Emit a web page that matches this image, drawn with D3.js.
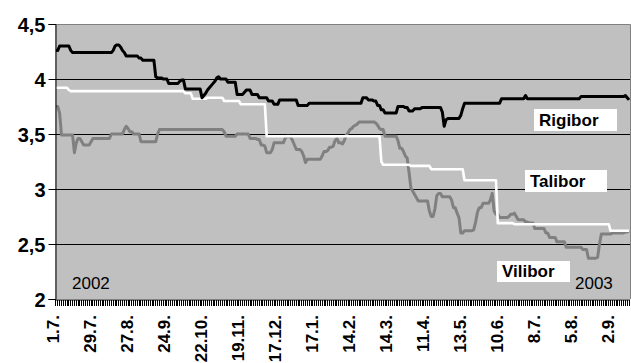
<!DOCTYPE html>
<html><head><meta charset="utf-8">
<script src="https://cdn.jsdelivr.net/npm/d3@7"></script>
<style>
html,body{margin:0;padding:0;background:#fff;}
svg{display:block;}
text{font-family:"Liberation Sans",Arial,sans-serif;}
</style></head>
<body><svg id="c" width="631" height="363"></svg>
<script>
// ---- data (one value per business day, 1.7.2002 – Sept 2003) ----
const rigibor = [
4.26,4.26,4.30,4.30,4.30,4.30,4.30,4.30,4.26,4.24,
4.24,4.24,4.24,4.24,4.24,4.24,4.24,4.24,4.24,4.24,
4.24,4.24,4.24,4.24,4.24,4.24,4.24,4.24,4.24,4.24,
4.24,4.26,4.30,4.31,4.31,4.29,4.26,4.24,4.21,4.21,
4.21,4.21,4.21,4.21,4.21,4.19,4.19,4.17,4.17,4.17,
4.17,4.17,4.17,4.17,4.02,4.01,4.01,4.01,4.00,4.00,
4.00,3.96,3.96,3.96,3.96,3.96,3.96,3.98,3.99,3.99,
3.91,3.91,3.91,3.91,3.91,3.91,3.91,3.91,3.91,3.83,
3.85,3.87,3.90,3.92,3.94,3.96,3.98,4.01,4.02,4.00,
4.00,4.00,4.00,3.97,3.97,3.97,3.97,3.97,3.86,3.86,
3.86,3.86,3.88,3.90,3.90,3.90,3.86,3.86,3.86,3.86,
3.83,3.83,3.83,3.83,3.83,3.80,3.80,3.80,3.77,3.77,
3.77,3.81,3.81,3.81,3.81,3.81,3.81,3.81,3.81,3.81,
3.81,3.76,3.76,3.76,3.76,3.76,3.76,3.78,3.78,3.78,
3.78,3.78,3.78,3.78,3.78,3.78,3.78,3.78,3.78,3.78,
3.78,3.78,3.78,3.78,3.78,3.78,3.78,3.78,3.78,3.78,
3.78,3.78,3.78,3.78,3.78,3.78,3.83,3.83,3.83,3.81,
3.81,3.81,3.80,3.80,3.76,3.76,3.72,3.72,3.69,3.69,
3.69,3.69,3.69,3.69,3.69,3.75,3.75,3.75,3.75,3.74,
3.74,3.71,3.71,3.71,3.73,3.73,3.73,3.73,3.74,3.74,
3.74,3.74,3.74,3.74,3.74,3.74,3.74,3.74,3.74,3.70,
3.57,3.63,3.64,3.64,3.64,3.64,3.64,3.64,3.64,3.67,
3.73,3.78,3.78,3.78,3.78,3.78,3.78,3.78,3.78,3.78,
3.78,3.78,3.78,3.78,3.78,3.78,3.78,3.78,3.78,3.78,
3.78,3.82,3.82,3.82,3.82,3.82,3.82,3.82,3.82,3.82,
3.82,3.82,3.82,3.82,3.85,3.82,3.82,3.82,3.82,3.82,
3.82,3.82,3.82,3.82,3.82,3.82,3.82,3.82,3.82,3.82,
3.82,3.82,3.82,3.82,3.82,3.82,3.82,3.82,3.82,3.82,
3.82,3.82,3.82,3.82,3.84,3.84,3.84,3.84,3.84,3.84,
3.84,3.84,3.84,3.84,3.84,3.84,3.84,3.84,3.84,3.84,
3.84,3.84,3.84,3.84,3.84,3.84,3.84,3.84,3.85,3.83,
3.81];

const talibor = [
3.92,3.92,3.92,3.92,3.92,3.92,3.92,3.90,3.89,3.89,
3.89,3.89,3.89,3.89,3.89,3.89,3.89,3.89,3.89,3.89,
3.89,3.89,3.89,3.89,3.89,3.89,3.89,3.89,3.89,3.89,
3.89,3.89,3.89,3.89,3.89,3.89,3.89,3.89,3.89,3.89,
3.89,3.89,3.89,3.89,3.89,3.89,3.89,3.89,3.89,3.89,
3.89,3.89,3.89,3.89,3.89,3.89,3.89,3.89,3.89,3.89,
3.89,3.89,3.89,3.89,3.89,3.89,3.89,3.89,3.89,3.89,
3.87,3.87,3.87,3.87,3.82,3.82,3.82,3.82,3.82,3.82,
3.82,3.82,3.83,3.83,3.83,3.83,3.83,3.83,3.83,3.83,
3.83,3.80,3.80,3.80,3.80,3.80,3.80,3.80,3.80,3.80,
3.77,3.77,3.77,3.77,3.77,3.77,3.77,3.77,3.77,3.77,
3.77,3.77,3.77,3.77,3.48,3.48,3.48,3.48,3.48,3.48,
3.48,3.48,3.48,3.48,3.48,3.48,3.48,3.48,3.48,3.48,
3.48,3.48,3.48,3.48,3.48,3.48,3.48,3.48,3.48,3.48,
3.48,3.48,3.48,3.48,3.48,3.48,3.48,3.48,3.48,3.48,
3.48,3.48,3.48,3.48,3.48,3.48,3.48,3.48,3.48,3.48,
3.48,3.48,3.48,3.48,3.48,3.48,3.48,3.48,3.48,3.48,
3.48,3.48,3.48,3.48,3.48,3.48,3.25,3.22,3.22,3.22,
3.22,3.22,3.22,3.22,3.22,3.22,3.22,3.22,3.22,3.22,
3.22,3.22,3.21,3.21,3.21,3.21,3.21,3.21,3.21,3.21,
3.21,3.21,3.21,3.18,3.18,3.18,3.18,3.18,3.18,3.18,
3.18,3.18,3.18,3.18,3.18,3.18,3.18,3.18,3.18,3.18,
3.18,3.08,3.08,3.08,3.08,3.08,3.08,3.08,3.08,3.08,
3.08,3.08,3.08,3.08,3.08,3.08,3.08,3.08,3.08,2.69,
2.69,2.69,2.69,2.69,2.69,2.69,2.69,2.69,2.68,2.68,
2.68,2.68,2.68,2.68,2.68,2.68,2.68,2.68,2.68,2.68,
2.68,2.68,2.68,2.68,2.68,2.68,2.68,2.68,2.68,2.68,
2.68,2.68,2.68,2.68,2.68,2.68,2.68,2.68,2.68,2.68,
2.68,2.68,2.68,2.68,2.68,2.68,2.68,2.68,2.68,2.68,
2.68,2.68,2.68,2.68,2.68,2.68,2.68,2.68,2.68,2.68,
2.62,2.62,2.62,2.62,2.62,2.62,2.62,2.62,2.62,2.62,
2.62];

const vilibor = [
3.75,3.75,3.69,3.49,3.49,3.49,3.49,3.49,3.49,3.49,
3.33,3.42,3.46,3.46,3.43,3.40,3.40,3.40,3.40,3.43,
3.46,3.46,3.46,3.46,3.46,3.46,3.46,3.46,3.46,3.46,
3.50,3.50,3.50,3.50,3.50,3.50,3.50,3.54,3.57,3.55,
3.52,3.52,3.50,3.50,3.50,3.50,3.43,3.43,3.43,3.43,
3.43,3.43,3.43,3.43,3.43,3.50,3.54,3.54,3.54,3.54,
3.54,3.54,3.54,3.54,3.54,3.54,3.54,3.54,3.54,3.54,
3.54,3.54,3.54,3.54,3.54,3.54,3.54,3.54,3.54,3.54,
3.54,3.54,3.54,3.54,3.54,3.54,3.54,3.54,3.54,3.54,
3.54,3.52,3.48,3.48,3.48,3.48,3.48,3.48,3.50,3.50,
3.50,3.50,3.50,3.50,3.50,3.46,3.46,3.46,3.46,3.45,
3.45,3.40,3.40,3.39,3.33,3.33,3.33,3.36,3.42,3.42,
3.42,3.42,3.42,3.42,3.46,3.48,3.48,3.47,3.44,3.40,
3.36,3.36,3.36,3.34,3.30,3.24,3.27,3.27,3.27,3.27,
3.27,3.27,3.27,3.27,3.30,3.34,3.34,3.35,3.38,3.38,
3.39,3.44,3.46,3.42,3.42,3.41,3.44,3.49,3.51,3.54,
3.55,3.57,3.58,3.59,3.61,3.61,3.61,3.61,3.61,3.61,
3.61,3.61,3.61,3.60,3.58,3.55,3.54,3.54,3.48,3.48,
3.48,3.48,3.48,3.48,3.48,3.44,3.37,3.37,3.34,3.30,
3.28,3.15,3.01,2.98,2.95,2.92,2.89,2.89,2.89,2.89,
2.89,2.89,2.80,2.75,2.75,2.82,2.94,2.96,2.96,2.93,
2.93,2.93,2.93,2.93,2.90,2.83,2.83,2.78,2.74,2.60,
2.60,2.62,2.62,2.62,2.62,2.62,2.63,2.70,2.79,2.83,
2.83,2.87,2.87,2.87,2.87,2.90,2.96,2.80,2.77,2.77,
2.74,2.74,2.74,2.74,2.74,2.75,2.77,2.77,2.78,2.75,
2.72,2.72,2.72,2.72,2.70,2.70,2.69,2.69,2.69,2.64,
2.64,2.64,2.64,2.64,2.64,2.60,2.60,2.56,2.56,2.56,
2.56,2.52,2.52,2.52,2.52,2.52,2.47,2.47,2.47,2.47,
2.47,2.47,2.47,2.47,2.47,2.45,2.45,2.45,2.37,2.37,
2.37,2.37,2.37,2.38,2.50,2.59,2.59,2.59,2.59,2.59,
2.59,2.60,2.60,2.60,2.60,2.60,2.60,2.60,2.61,2.61,
2.62];

const xTickLabels = ["1.7.","29.7.","27.8.","24.9.","22.10.","19.11.","17.12.","17.1.","14.2.","14.3.","11.4.","13.5.","10.6.","8.7.","5.8.","2.9."];
const labelEvery = 20;
const yTicks = [2, 2.5, 3, 3.5, 4, 4.5];
const yearLabels = ["2002", "2003"];
const seriesNames = ["Rigibor", "Talibor", "Vilibor"];

// ---- chart ----
const N = rigibor.length;
const svg = d3.select("#c");
const L = 55, R = 630, T = 24, B = 299;
const x = d3.scaleBand().domain(d3.range(N)).range([L, R]);
const xc = i => x(i) + x.bandwidth() / 2;
const y = d3.scaleLinear().domain([2, 4.5]).range([B, T]);

svg.append("rect").attr("x", L).attr("y", T).attr("width", R - L).attr("height", B - T).attr("fill", "#C0C0C0");

// gridlines
svg.append("g").selectAll("line").data(yTicks.filter(v => v > 2 && v < 4.5)).join("line")
  .attr("x1", L).attr("x2", R).attr("y1", d => Math.round(y(d)) + 0.5).attr("y2", d => Math.round(y(d)) + 0.5)
  .attr("stroke", "#000").attr("stroke-width", 1);
// top & right border
svg.append("path").attr("d", `M${L},${T + 0.5}H${R + 0.5}V${B}`).attr("fill", "none").attr("stroke", "#808080").attr("stroke-width", 1);

// series lines
const line = d3.line().x((d, i) => xc(i)).y(d => y(d));
const series = [
  {v: vilibor, c: "#808080", w: 3},
  {v: talibor, c: "#FFFFFF", w: 2.6},
  {v: rigibor, c: "#000000", w: 3}
];
svg.append("g").selectAll("path").data(series).join("path")
  .attr("d", d => line(d.v)).attr("fill", "none")
  .attr("stroke", d => d.c).attr("stroke-width", d => d.w).attr("stroke-linejoin", "round");

// y axis
const yAxis = d3.axisLeft(y).tickValues(yTicks).tickSize(7).tickPadding(3)
  .tickFormat(d => String(d).replace(".", ","));
const gy = svg.append("g").attr("transform", `translate(${L + 0.5},0)`).call(yAxis);
gy.select(".domain").attr("stroke", "#000");
gy.selectAll(".tick line").attr("stroke", "#000");
gy.selectAll(".tick text").attr("font-size", 20).attr("font-weight", "bold").attr("fill", "#000")
  .attr("font-family", "'Liberation Sans', Arial, sans-serif").attr("dy", "0.36em");

// x axis (one tick per business day)
const xAxis = d3.axisBottom(x).tickValues(d3.range(N)).tickSize(6).tickFormat("");
const gx = svg.append("g").attr("transform", `translate(0,${B + 0.5})`).call(xAxis);
gx.select(".domain").attr("stroke", "#000").attr("d", `M${L},0.5H${R}`);
gx.selectAll(".tick line").attr("stroke", "#000").attr("shape-rendering", "crispEdges");

svg.append("g").selectAll("text").data(xTickLabels).join("text")
  .attr("transform", (d, k) => `translate(${xc(k * labelEvery) - 2.5},315) rotate(-90)`)
  .attr("text-anchor", "end").attr("dy", "0.35em")
  .attr("font-size", 17).attr("font-weight", "bold").attr("fill", "#000")
  .text(d => d);

// series name boxes
const boxes = [
  {t: seriesNames[0], x: 534, y: 109, w: 83, h: 22},
  {t: seriesNames[1], x: 525, y: 170, w: 82, h: 22},
  {t: seriesNames[2], x: 497, y: 261, w: 73, h: 21}
];
const gb = svg.append("g");
gb.selectAll("rect").data(boxes).join("rect")
  .attr("x", d => d.x).attr("y", d => d.y).attr("width", d => d.w).attr("height", d => d.h).attr("fill", "#fff");
gb.selectAll("text").data(boxes).join("text")
  .attr("x", d => d.x + 5).attr("y", d => d.y + d.h - 5)
  .attr("font-size", 17).attr("font-weight", "bold").attr("fill", "#000").text(d => d.t);

// year labels
svg.append("text").attr("x", 72).attr("y", 289).attr("font-size", 17).attr("fill", "#000").text(yearLabels[0]);
svg.append("text").attr("x", 575).attr("y", 289).attr("font-size", 17).attr("fill", "#000").text(yearLabels[1]);
</script></body></html>
